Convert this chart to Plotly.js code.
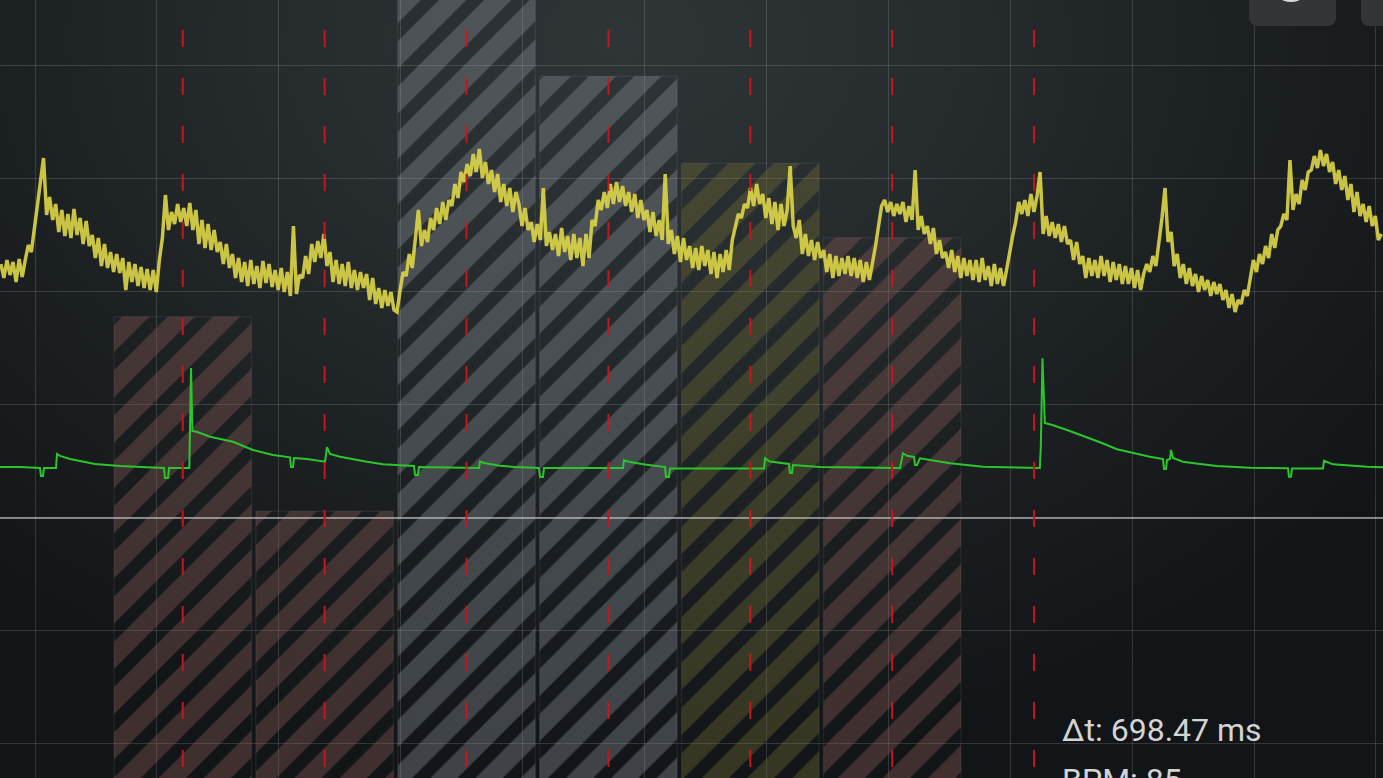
<!DOCTYPE html>
<html>
<head>
<meta charset="utf-8">
<script src="https://cdn.plot.ly/plotly-3.0.1.min.js"></script>
<style>
  html, body {
    margin: 0; padding: 0; width: 1383px; height: 778px; overflow: hidden;
    background: radial-gradient(ellipse 70% 95% at 45% 5%, #2f3437 0%, #262b2e 35%, #1a1e21 70%, #121518 100%);
  }
  #chart { position: absolute; left: 0; top: 0; width: 1383px; height: 778px; }
  .btn { position: absolute; top: -20px; height: 46px; background: #333536; border-radius: 8px; overflow: hidden; }
  .btn .icon { position: absolute; left: 22px; top: -18px; width: 40px; height: 40px; border-radius: 50%; background: #d8d8d8; }
</style>
</head>
<body>
<div id="chart"></div>
<div class="btn" style="left:1249px; width:87px;"><div class="icon"></div></div>
<div class="btn" style="left:1361px; width:40px;"></div>
<script>
// Time axis in ms; grid every 100 ms.
const timeRange = [-28.71, 1105.82];

// Beat markers (ms) drawn as dashed cursors.
const beatTimes = [121.2, 237.6, 354.0, 470.4, 586.8, 703.2, 819.6];

// Per-beat interval bars: length above the bar floor, and zone class.
const barHeights = [4.78, 3.06, 7.9, 6.91, 6.14, 5.48];
const barZones = ['low', 'low', 'mid', 'mid', 'high', 'low'];

// R-peak times (ms) of the two marked beats.
const rPeaks = [128.0, 826.47];

// ECG lead (time ms, amplitude).
const ecgTime = [-28.71, -12.31, 4.10, 4.92, 6.56, 7.38, 17.23, 18.05, 20.51, 28.71, 36.92, 49.22, 69.73,
  102.54, 105.82, 106.64, 109.11, 109.93, 126.6, 128.0, 129.1, 133.2, 143.56, 162.43, 178.83, 195.24,
  209.19, 210.01, 211.65, 212.47, 223.13, 237.90, 239.54, 242.00, 250.21, 272.35, 285.48, 299.43,
  310.91, 311.73, 314.19, 315.01, 326.50, 354.39, 364.23, 365.05, 368.33, 381.46, 393.77, 413.45,
  414.27, 416.74, 417.56, 482.36, 483.18, 488.11, 500.41, 516.82, 517.64, 520.10, 520.92, 598.03,
  598.85, 602.95, 618.54, 619.36, 621.00, 621.82, 643.97, 709.60, 712.06, 715.34, 721.08, 721.90,
  723.54, 726.00, 736.67, 750.62, 777.69, 818.70, 824.3, 825.1, 826.47, 828.4, 834.5, 846.60, 859.72,
  873.67, 887.61, 900.74, 914.68, 925.35, 926.17, 927.81, 928.63, 931.09, 931.91, 933.55, 941.76,
  955.70, 969.65, 996.72, 1027.89, 1028.71, 1030.35, 1031.17, 1056.60, 1057.42, 1064.81, 1092.70, 1105.82];
const ecgValue = [0.451, 0.451, 0.442, 0.372, 0.372, 0.442, 0.442, 0.566, 0.549, 0.522, 0.504, 0.478, 0.460,
  0.442, 0.442, 0.354, 0.354, 0.442, 0.442, 1.327, 0.770, 0.761, 0.719, 0.675, 0.602, 0.558,
  0.537, 0.451, 0.451, 0.531, 0.522, 0.498, 0.626, 0.566, 0.542, 0.498, 0.475, 0.466,
  0.460, 0.381, 0.381, 0.451, 0.449, 0.442, 0.442, 0.500, 0.487, 0.463, 0.451, 0.442,
  0.363, 0.363, 0.442, 0.442, 0.511, 0.496, 0.473, 0.451, 0.363, 0.363, 0.438, 0.438,
  0.528, 0.500, 0.478, 0.398, 0.398, 0.469, 0.451, 0.442, 0.573, 0.551, 0.540, 0.469,
  0.469, 0.528, 0.507, 0.484, 0.454, 0.445, 0.442, 0.628, 1.413, 0.841, 0.823, 0.779, 0.728,
  0.670, 0.608, 0.573, 0.542, 0.522, 0.434, 0.434, 0.513, 0.522, 0.602, 0.531, 0.498,
  0.478, 0.460, 0.445, 0.440, 0.365, 0.365, 0.438, 0.438, 0.507, 0.475, 0.454, 0.449];

// Pulse waveform, raw counts, sampled at 400 Hz starting at -28 ms.
const ppgStart = -28;
const ppgStep = 2.5;
const ppgCounts = [
  66, 52, 70, 55, 68, 48, 71, 53, 70, 85,
  78, 100, 128, 150, 172, 115, 133, 110, 126, 98,
  120, 94, 116, 92, 121, 95, 112, 86, 109, 84,
  95, 72, 92, 64, 86, 62, 78, 58, 76, 57,
  72, 40, 68, 48, 66, 44, 63, 42, 61, 40,
  60, 38, 70, 92, 135, 100, 118, 106, 126, 108,
  122, 104, 127, 100, 120, 86, 110, 82, 106, 80,
  100, 78, 88, 66, 86, 62, 76, 52, 72, 48,
  68, 44, 70, 46, 64, 42, 69, 47, 66, 43,
  60, 40, 62, 38, 58, 34, 104, 36, 55, 52,
  74, 56, 86, 68, 89, 72, 96, 64, 78, 48,
  70, 46, 66, 44, 68, 42, 60, 40, 58, 42,
  56, 30, 52, 26, 42, 22, 40, 24, 38, 20,
  18, 40, 58, 54, 76, 62, 88, 120, 84, 100,
  88, 112, 100, 122, 106, 128, 110, 130, 124, 146,
  132, 158, 148, 166, 154, 176, 158, 181, 152, 168,
  146, 160, 138, 156, 128, 146, 124, 142, 118, 138,
  126, 104, 122, 100, 108, 88, 106, 90, 142, 84,
  98, 80, 96, 74, 102, 78, 94, 70, 96, 72,
  92, 64, 96, 72, 110, 104, 130, 120, 138, 122,
  146, 126, 148, 128, 144, 124, 138, 118, 136, 112,
  130, 110, 120, 98, 118, 94, 110, 90, 156, 86,
  100, 76, 94, 68, 92, 70, 84, 62, 82, 60,
  84, 64, 80, 56, 78, 52, 76, 58, 80, 60,
  90, 104, 116, 112, 126, 122, 142, 124, 146, 126,
  136, 112, 132, 106, 128, 100, 126, 104, 120, 164,
  104, 92, 110, 76, 96, 74, 90, 70, 88, 72,
  80, 58, 76, 52, 74, 54, 72, 56, 74, 54,
  72, 52, 70, 48, 68, 50, 66, 84, 104, 124,
  130, 118, 128, 114, 126, 116, 128, 108, 124, 110,
  160, 100, 114, 96, 104, 86, 102, 76, 90, 72,
  78, 62, 80, 58, 74, 52, 72, 54, 70, 50,
  70, 48, 72, 50, 64, 44, 66, 46, 62, 44,
  60, 78, 94, 108, 128, 116, 130, 114, 136, 118,
  134, 158, 96, 114, 94, 108, 92, 106, 88, 104,
  86, 90, 70, 88, 66, 74, 52, 72, 54, 70,
  52, 74, 54, 70, 48, 68, 50, 66, 46, 64,
  46, 62, 42, 60, 40, 56, 66, 58, 74, 64,
  86, 112, 142, 88, 98, 64, 76, 52, 66, 46,
  62, 44, 56, 38, 54, 40, 50, 34, 48, 36,
  46, 30, 40, 22, 36, 18, 30, 26, 40, 34,
  52, 70, 58, 76, 66, 84, 72, 96, 82, 100,
  104, 116, 110, 170, 120, 136, 126, 150, 140, 158,
  160, 174, 162, 180, 164, 176, 158, 168, 146, 160,
  140, 154, 130, 146, 118, 138, 114, 126, 108, 124,
  104, 114, 90, 96
];
const ppgTime = ppgCounts.map((_, i) => ppgStart + i * ppgStep);

// Light stripe colour per zone; dark stripes share one tint.
const zoneFill = {
  low: 'rgba(140,92,86,0.36)',
  mid: 'rgba(140,146,152,0.36)',
  high: 'rgba(116,114,52,0.36)'
};

const intervalBars = {
  type: 'bar',
  x: beatTimes.slice(0, barHeights.length),
  y: barHeights,
  base: -3,
  width: 112.8,
  xaxis: 'x', yaxis: 'y',
  hoverinfo: 'skip',
  marker: {
    color: barZones.map(z => zoneFill[z]),
    line: { color: 'rgba(255,255,255,0.06)', width: 1.5 },
    pattern: {
      shape: '/', size: 32, solidity: 0.6, fillmode: 'replace',
      bgcolor: barZones.map(z => zoneFill[z]),
      fgcolor: 'rgba(15,18,20,0.5)'
    }
  }
};

const ecgTrace = {
  type: 'scatter', mode: 'lines',
  x: ecgTime, y: ecgValue,
  xaxis: 'x', yaxis: 'y2',
  line: { color: '#2bc62b', width: 2 },
  hoverinfo: 'skip'
};

const ppgTrace = {
  type: 'scatter', mode: 'lines',
  x: ppgTime, y: ppgCounts,
  xaxis: 'x', yaxis: 'y3',
  line: { color: 'rgba(222,214,72,0.9)', width: 3.5 },
  hoverinfo: 'skip'
};

// Baseline drawn over the bars, then the dashed beat cursors on top.
const baselineShape = {
  type: 'line', xref: 'paper', yref: 'y',
  x0: 0, x1: 1, y0: 0, y1: 0,
  layer: 'above',
  line: { color: 'rgba(190,190,190,0.85)', width: 1.5 }
};

const cursorShapes = beatTimes.map(t => ({
  type: 'line', xref: 'x', yref: 'y',
  x0: t, x1: t, y0: 4.319, y1: -2.5,
  layer: 'above',
  line: { color: '#c7161d', width: 2, dash: '17px,31px' }
}));

const dt = rPeaks[1] - rPeaks[0];

const layout = {
  width: 1383, height: 778,
  margin: { l: 0, r: 0, t: 0, b: 0 },
  paper_bgcolor: 'rgba(0,0,0,0)',
  plot_bgcolor: 'rgba(0,0,0,0)',
  showlegend: false,
  bargap: 0,
  xaxis: {
    range: timeRange, dtick: 100, tick0: 0,
    showgrid: true, gridcolor: 'rgba(255,255,255,0.14)', gridwidth: 1,
    zeroline: false, showticklabels: false, ticks: '', showline: false
  },
  yaxis: {
    range: [-2.301, 4.584], dtick: 1, tick0: 0,
    showgrid: true, gridcolor: 'rgba(255,255,255,0.14)', gridwidth: 1,
    zeroline: false, showticklabels: false, ticks: '', showline: false
  },
  yaxis2: { range: [-2.301, 4.584], overlaying: 'y', visible: false },
  yaxis3: { range: [-448, 330], overlaying: 'y', visible: false },
  shapes: [baselineShape].concat(cursorShapes),
  annotations: [
    {
      xref: 'paper', yref: 'paper', x: 0.7665, y: 0.0615,
      xanchor: 'left', yanchor: 'middle', showarrow: false,
      text: 'Δt: ' + dt.toFixed(2) + ' ms',
      font: { family: 'Roboto', size: 32, color: '#d4d4d4' }
    },
    {
      xref: 'paper', yref: 'paper', x: 0.7665, y: -0.003,
      xanchor: 'left', yanchor: 'middle', showarrow: false,
      text: 'BPM: ' + Math.floor(60000 / dt),
      font: { family: 'Roboto', size: 32, color: '#d4d4d4' }
    }
  ]
};

Plotly.newPlot('chart', [intervalBars, ecgTrace, ppgTrace], layout, { staticPlot: true, displayModeBar: false });
</script>
</body>
</html>
